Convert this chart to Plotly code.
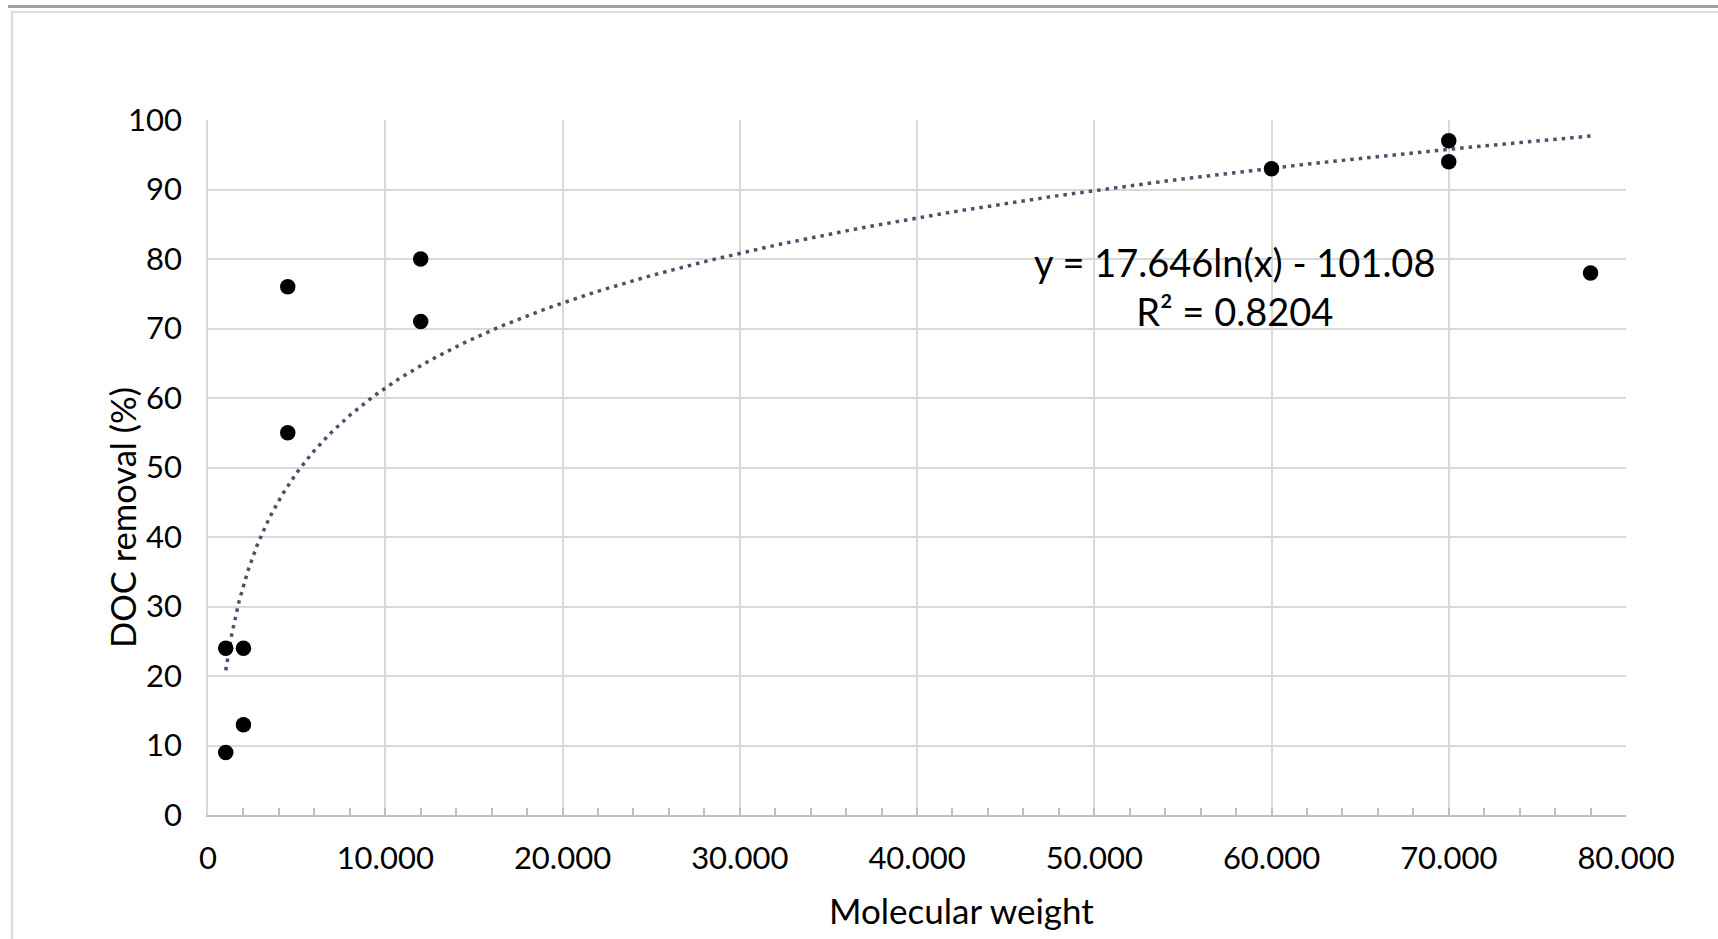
import numpy as np
import plotly.graph_objects as go

# Data
molecular_weight = [1000, 1000, 2000, 2000, 4500, 4500, 12000, 12000, 60000, 70000, 70000, 78000]
doc_removal = [24, 9, 24, 13, 76, 55, 80, 71, 93, 97, 94, 78]

# Logarithmic trendline as printed on the chart
trend_a = 17.646
trend_b = -101.08
trend_r2 = 0.8204

x_ticks = [0, 10000, 20000, 30000, 40000, 50000, 60000, 70000, 80000]
x_ticklabels = ["0", "10.000", "20.000", "30.000", "40.000", "50.000", "60.000", "70.000", "80.000"]
y_ticks = [0, 10, 20, 30, 40, 50, 60, 70, 80, 90, 100]

tx = np.geomspace(min(molecular_weight), max(molecular_weight), 300)
ty = trend_a * np.log(tx) + trend_b

FONT = "Lato"
W, H = 1718, 939
L, R, T, B = 208, 1626, 120, 815

def px(x):
    return (x - L) / (R - L)

def py(y):
    return (B - y) / (B - T)

fig = go.Figure()
fig.add_trace(go.Scatter(
    x=tx, y=ty, mode="lines",
    line=dict(color="#44546A", width=3.5, dash="3.5px,5px"),
    hoverinfo="skip", showlegend=False,
))
fig.add_trace(go.Scatter(
    x=molecular_weight, y=doc_removal, mode="markers",
    marker=dict(color="#000000", size=15.5),
    showlegend=False,
))

fig.update_layout(
    width=W, height=H,
    margin=dict(l=L, r=W - R, t=T, b=H - B),
    paper_bgcolor="white", plot_bgcolor="white",
    font=dict(family=FONT, color="#000000"),
    xaxis=dict(
        range=[0, 80000], tickvals=x_ticks, ticktext=x_ticklabels,
        showgrid=True, gridcolor="#D9D9D9", gridwidth=1.5,
        showline=True, linecolor="#BFBFBF", linewidth=2,
        ticks="inside", ticklen=7, tickcolor="#BFBFBF", tickwidth=1.5,
        minor=dict(dtick=2000, ticks="inside", ticklen=7, tickcolor="#BFBFBF", tickwidth=1.5, showgrid=False),
        tickfont=dict(size=31, family=FONT),
        ticklabelstandoff=15,
        zeroline=False,
    ),
    yaxis=dict(
        range=[0, 100], tickvals=y_ticks,
        showgrid=True, gridcolor="#D9D9D9", gridwidth=1.5,
        showline=True, linecolor="#D9D9D9", linewidth=1.5,
        ticks="", tickfont=dict(size=31, family=FONT),
        ticklabelstandoff=18,
        zeroline=False,
    ),
    annotations=[
        dict(text="Molecular weight", xref="paper", yref="paper",
             x=px(962), y=py(910), xanchor="center", yanchor="middle",
             showarrow=False, font=dict(size=35, family=FONT)),
        dict(text="DOC removal (%)", xref="paper", yref="paper",
             x=px(122), y=py(518), xanchor="center", yanchor="middle",
             textangle=-90, showarrow=False, font=dict(size=34.5, family=FONT)),
        dict(text=f"y = {trend_a}ln(x) - {trend_b * -1:.2f}<br>R² = {trend_r2}",
             xref="paper", yref="paper",
             x=px(1234), y=py(286), xanchor="center", yanchor="middle",
             align="center", showarrow=False, font=dict(size=38, family=FONT)),
    ],
    shapes=[
        # dark gray bar at the very top
        dict(type="rect", xref="paper", yref="paper",
             x0=px(8), x1=px(1718), y0=py(8), y1=py(5),
             fillcolor="#A0A0A0", line=dict(width=0), layer="above"),
        # light outer frame (top + left)
        dict(type="line", xref="paper", yref="paper",
             x0=px(11), x1=px(1718), y0=py(12), y1=py(12),
             line=dict(color="#DDDDDD", width=2)),
        dict(type="line", xref="paper", yref="paper",
             x0=px(12), x1=px(12), y0=py(11), y1=py(939),
             line=dict(color="#DDDDDD", width=2.5)),
    ],
)

fig.write_html("out.html")
